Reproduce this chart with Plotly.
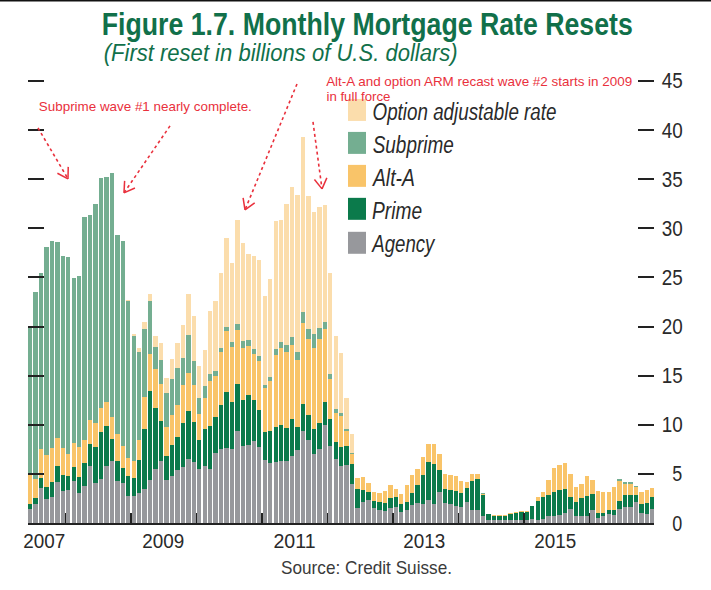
import json
import numpy as np
import plotly.graph_objects as go

agency = [1.4,1.9,3.6,2.4,2.6,4.2,3.3,3.4,4.3,3.1,
3.8,5.8,4.1,4.5,5.8,6.3,4.3,4.1,2.8,2.7,
3.1,3.5,4.4,5.5,6.3,4.4,4.8,5.4,5.7,6.5,
6.2,5.5,5.8,5.5,7.1,7.5,7.6,7.5,9.4,7.8,
7.9,8.3,7.7,6.4,6.1,6.2,6.3,6.3,6.8,7.4,
9.4,8.5,7.0,7.5,10.0,7.8,6.5,5.8,5.9,4.0,
1.5,2.1,2.3,1.5,1.3,1.2,1.5,1.6,1.1,1.3,
1.8,2.0,1.9,2.3,1.9,3.2,2.0,1.9,1.7,1.6,
2.1,1.3,1.3,0.7,0.3,0.3,0.3,0.3,0.3,0.3,
0.3,0.3,0.4,0.3,0.4,0.7,0.7,0.8,1.0,1.4,
0.7,0.7,0.7,1.3,0.5,0.7,0.9,0.8,1.4,1.6,
1.6,2.1,1.0,0.9,1.4]
prime = [0.5,0.6,1.0,1.3,1.6,1.6,1.6,1.4,1.4,1.6,
2.3,2.2,3.6,4.8,4.1,2.3,2.0,1.5,2.0,1.9,
3.3,6.1,9.0,6.2,4.1,2.4,3.1,3.4,4.5,4.9,
4.1,3.0,3.8,4.4,3.7,4.5,5.7,4.8,4.8,4.7,
5.1,4.2,3.8,2.9,3.3,3.6,3.7,3.4,3.8,2.4,
2.7,2.5,2.6,2.7,2.3,2.8,1.7,1.9,1.9,2.0,
2.0,1.3,0.9,0.7,0.8,0.8,1.0,1.0,0.8,0.8,
1.3,1.9,3.0,3.9,4.1,2.2,1.5,1.5,1.6,1.5,
1.5,3.0,3.2,2.2,0.6,0.4,0.4,0.4,0.6,0.7,
0.8,0.85,1.3,1.9,2.2,2.2,2.5,2.6,2.5,1.2,
1.4,1.8,2.1,1.7,0.5,0.3,0.4,0.5,0.8,1.3,
1.3,0.8,0.9,1.1,1.2]
alt_a = [3.2,2.0,2.9,3.2,3.4,2.9,2.7,2.2,2.4,3.0,
2.4,2.5,2.5,2.4,2.4,2.2,2.8,2.2,1.8,1.7,
2.0,3.2,3.8,4.0,3.8,3.0,3.1,3.2,3.9,3.9,
3.7,2.6,3.1,4.6,4.2,5.4,6.2,5.6,5.4,5.3,
5.0,4.7,5.0,4.4,5.1,7.3,7.8,7.7,7.5,6.8,
8.3,7.7,8.2,8.5,7.5,4.1,3.0,3.2,1.6,1.0,
1.1,1.3,0.9,1.0,1.0,1.3,1.4,0.9,1.1,1.8,
1.8,1.6,1.8,1.8,2.0,1.6,1.5,1.5,1.5,1.2,
0.6,0.7,0.5,0.1,0.05,0.1,0.1,0.1,0.1,0.1,
0.1,0.05,0.05,0.4,0.6,1.5,2.4,2.5,2.6,2.4,
1.6,1.5,2.0,1.4,2.3,2.2,1.9,2.4,2.1,1.1,
1.1,0.8,1.3,1.4,1.0]
subprime = [14.8,19.0,18.0,21.2,21.1,19.9,19.6,20.1,16.8,17.4,
22.7,20.9,22.3,23.4,22.9,24.8,20.2,20.9,16.0,12.7,
9.0,7.0,5.4,2.2,2.4,3.4,3.7,3.8,2.7,3.8,
2.5,1.6,1.2,0.7,0.5,0.4,0.5,0.5,0.7,0.7,
0.6,0.5,0.5,0.3,0.4,0.6,0.6,0.7,0.8,0.8,
1.1,1.1,1.4,1.2,0.7,0.5,0.4,0.3,0.2,0.1,
0,0,0,0,0,0,0,0,0,0,
0,0,0,0,0,0,0,0,0,0,
0,0,0,0.05,0,0,0,0,0,0,
0,0,0,0,0,0,0,0,0,0,
0,0,0,0,0,0,0,0,0.15,0.15,
0.15,0.05,0,0,0]
option = [0,0,0,0,0,0,0,0,0,0,
0,0,0,0,0,0,0,0,0.1,0.2,
0.4,0.7,0.7,1.1,1.7,1.6,2.0,2.5,3.4,4.2,
4.6,3.3,3.7,6.4,7.1,7.7,9.0,8.1,10.5,10.0,
8.8,9.5,9.8,9.1,9.9,13.0,12.4,14.4,15.3,16.0,
17.8,13.5,12.5,12.3,11.9,10.3,7.4,6.1,3.1,2.0,
0,0,0,0,0,0,0,0,0,0,
0,0,0,0,0,0,0,0,0,0,
0,0,0,0,0,0,0,0,0,0,
0,0,0,0,0,0,0,0,0,0,
0,0,0,0,0,0,0,0,0,0,
0,0,0,0,0]

series_names = ["Agency", "Prime", "Alt-A", "Subprime", "Option adjustable rate"]
series_colors = ["#97989C", "#0B7A4B", "#F9C469", "#74AE91", "#FBDDAC"]
series_values = [agency, prime, alt_a, subprime, option]
months = list(range(len(agency)))
y_ticks = [0, 5, 10, 15, 20, 25, 30, 35, 40, 45]
year_ticks = [6.5, 18.5, 30.5, 42.5, 54.5, 66.5, 78.5, 90.5, 102.5, 114.2]
year_labels = ["2007", "2009", "2011", "2013", "2015"]
year_label_pos = [2.7, 24.5, 48.5, 72.3, 96.3]

Y_MAX = 45.2
L, R, B = 28.0, 654.0, 523.5
T = B - Y_MAX * 442.5 / 45
SANS = "Liberation Sans"
GREEN = "#11704A"
RED = "#E9303C"
INK = "#2A2A2A"


def px(x):
    return (x - L) / (R - L)


def py(y):
    return (B - y) / (B - T)


fig = go.Figure()
for name, color, vals in zip(series_names, series_colors, series_values):
    fig.add_trace(go.Bar(x=months, y=vals, name=name, marker_color=color,
                         marker_line_width=0, showlegend=False))
fig.add_trace(go.Scatter(x=[0], y=[0], yaxis="y2", mode="markers",
                         marker_opacity=0, showlegend=False, hoverinfo="skip"))

shapes = []
annotations = []
widths = {}


def text(cx, y, s, width, size, color=INK, weight=400, style="normal", xref="paper", yref="paper"):
    """Text centred on cx and fitted to the reference's condensed width in the page script."""
    widths[s] = width
    annotations.append(dict(x=px(cx) if xref == "paper" else cx, y=py(y) if yref == "paper" else y,
                            xref=xref, yref=yref, text=s, showarrow=False,
                            xanchor="center", yanchor="middle", borderpad=0,
                            font=dict(size=size, color=color, family=SANS, weight=weight, style=style)))


def seg(x0, y0, x1, y1, color=RED, width=1.6, dash="dot"):
    shapes.append(dict(type="line", xref="paper", yref="paper",
                       x0=px(x0), y0=py(y0), x1=px(x1), y1=py(y1),
                       line=dict(color=color, width=width, dash=dash)))


def arrow(x0, y0, x1, y1):
    seg(x0, y0, x1, y1)
    a = np.arctan2(y0 - y1, x0 - x1)
    for d in (-0.55, 0.55):
        seg(x1, y1, x1 + 12 * np.cos(a + d), y1 + 12 * np.sin(a + d), width=1.5, dash="solid")


arrow(38, 128, 68, 179)
arrow(170, 126, 124, 193)
arrow(297, 84, 245, 210)
arrow(313, 122, 322, 189)

seg(0, 0.7, 711, 0.7, color="#111111", width=1.5, dash="solid")

legend_y = [243, 209, 176, 143, 110]
legend_text_y = [244, 211, 178, 145, 112]
legend_w = [62, 50, 42, 81, 184]
for name, color, yy, ty, w in zip(series_names, series_colors, legend_y, legend_text_y, legend_w):
    shapes.append(dict(type="rect", xref="paper", yref="paper", layer="above",
                       x0=px(348), x1=px(366), y0=py(yy - 11), y1=py(yy + 11),
                       fillcolor=color, line_width=0))
    text(372 + w / 2, ty, name, w, 23, style="italic")

text(367.5, 24, "Figure 1.7. Monthly Mortgage Rate Resets", 531, 32, GREEN, weight=700)
text(280, 53, "(First reset in billions of U.S. dollars)", 354, 23, GREEN, style="italic")
text(366.5, 568, "Source: Credit Suisse.", 171, 19, "#3A3A3A")
text(145.5, 106.5, "Subprime wave #1 nearly complete.", 213, 13, RED)
text(479, 82, "Alt-A and option ARM recast wave #2 starts in 2009", 306, 13, RED)
text(358, 97, "in full force", 64, 13, RED)
for lab, pos in zip(year_labels, year_label_pos):
    text(pos, 542, lab, 42, 20, xref="x")
for v in y_ticks:
    digits = len(str(v))
    text(677 if digits == 1 else 671.5, v, str(v), 10 if digits == 1 else 21, 22, yref="y")

fig.update_layout(
    width=711, height=590, autosize=False,
    margin=dict(l=L, r=711 - R, t=T, b=590 - B, pad=0),
    paper_bgcolor="white", plot_bgcolor="white",
    barmode="stack", bargap=0.2, showlegend=False,
    shapes=shapes, annotations=annotations,
    xaxis=dict(range=[-0.37, 114.3], tickmode="array", tickvals=year_ticks,
               ticktext=[""] * len(year_ticks), ticks="inside", ticklen=10, tickwidth=1.5,
               tickcolor="#222222", showgrid=False, zeroline=False, showline=True,
               linecolor="#222222", linewidth=1.5),
    yaxis=dict(range=[0, Y_MAX], tickmode="array", tickvals=y_ticks[1:],
               ticktext=[""] * (len(y_ticks) - 1), ticks="inside", ticklen=16, tickwidth=2,
               tickcolor="#222222", showgrid=False, zeroline=False, showline=False),
    yaxis2=dict(range=[0, Y_MAX], overlaying="y", side="right", tickmode="array", tickvals=y_ticks[1:],
                ticktext=[""] * (len(y_ticks) - 1), ticks="inside", ticklen=16, tickwidth=2,
                tickcolor="#222222", showgrid=False, zeroline=False, showline=False),
)

post = """
document.body.style.margin='0';
var W = %s;
document.querySelectorAll('.annotation-text').forEach(function (el) {
  var w = W[el.textContent];
  if (w) { el.setAttribute('textLength', w); el.setAttribute('lengthAdjust', 'spacingAndGlyphs'); }
});
""" % json.dumps(widths)

fig.write_html("out.html", post_script=post, config={"staticPlot": True, "displayModeBar": False})
